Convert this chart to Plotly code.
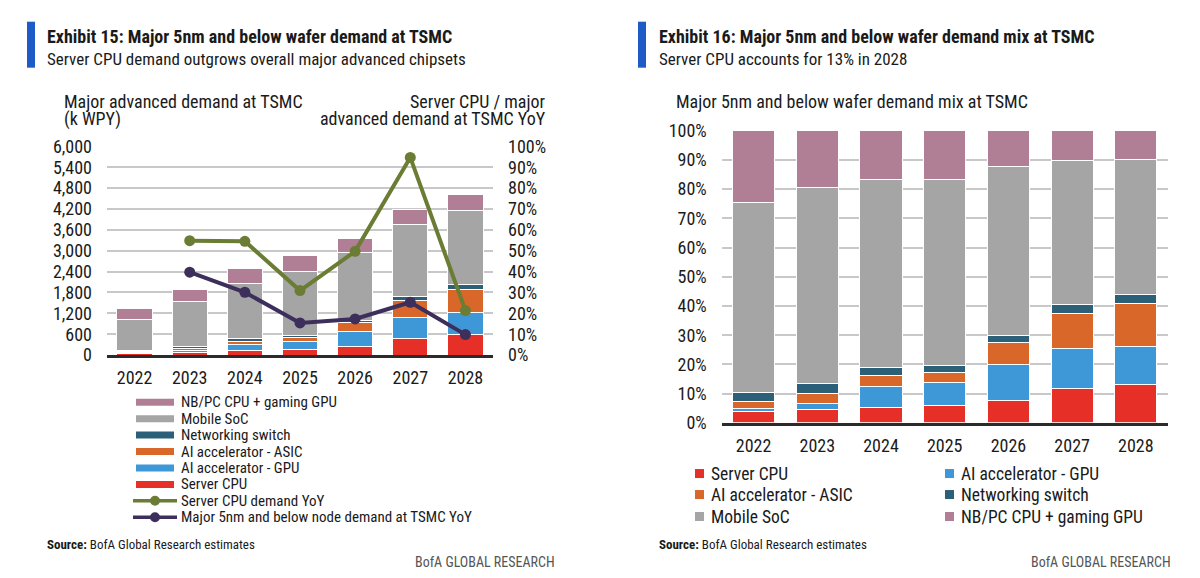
import plotly.graph_objects as go

W, H = 1200, 578

# The photographed page maps figure-y to picture-y as  y_pic = SY * y_fig + OY
# (measured from the previous renders); targets below are picture pixels.
SY, OY = 0.964, 10.3


def px(x):
    return x / W


def py(y):
    return 1 - ((y - OY) / SY) / H


FONT = "Liberation Sans Narrow, Roboto Condensed, Arial Narrow, Roboto, sans-serif"
TXT = "#1a1a1a"

RED = "#E63027"
BLUE = "#3E98D8"
ORANGE = "#D9672A"
TEAL = "#2B6078"
GRAY = "#A5A5A5"
PINK = "#B07F95"
GREEN = "#6B7D34"
PURPLE = "#3D2F5B"
ACCENT = "#1F5BC6"

years = ["2022", "2023", "2024", "2025", "2026", "2027", "2028"]

# Exhibit 15: k WPY
server_cpu_k = [53, 84, 127, 169, 256, 490, 600]
ai_gpu_k = [12, 44, 181, 223, 414, 590, 611]
ai_asic_k = [34, 61, 92, 103, 256, 490, 674]
net_switch_k = [43, 65, 67, 66, 81, 125, 140]
mobile_soc_k = [880, 1280, 1605, 1830, 1945, 2072, 2144]
nb_pc_k = [320, 364, 411, 460, 413, 430, 459]

# YoY lines (%)
server_cpu_yoy = [None, 54.8, 54.5, 30.9, 49.7, 94.7, 21.3]
total_yoy = [None, 39.7, 30.1, 15.4, 17.3, 25.3, 9.8]

# Exhibit 16: mix (%)
mix_server_cpu = [3.9, 4.4, 5.1, 5.9, 7.6, 11.8, 13.0]
mix_ai_gpu = [0.9, 2.3, 7.3, 7.8, 12.3, 13.8, 13.2]
mix_ai_asic = [2.5, 3.2, 3.7, 3.6, 7.6, 11.9, 14.6]
mix_net = [3.2, 3.4, 2.7, 2.3, 2.4, 2.9, 3.0]
mix_mobile = [65.0, 67.3, 64.5, 63.6, 57.9, 49.3, 46.3]
mix_nb = [24.5, 19.4, 16.7, 16.8, 12.2, 10.3, 9.9]

names = ["Server CPU", "AI accelerator - GPU", "AI accelerator - ASIC",
         "Networking switch", "Mobile SoC", "NB/PC CPU + gaming GPU"]
colors = [RED, BLUE, ORANGE, TEAL, GRAY, PINK]

fig = go.Figure()

left_vals = [server_cpu_k, ai_gpu_k, ai_asic_k, net_switch_k, mobile_soc_k, nb_pc_k]
for n, v, c in zip(names, left_vals, colors):
    fig.add_trace(go.Bar(x=years, y=v, name=n, width=0.64,
                         marker=dict(color=c, line=dict(color="white", width=1)),
                         xaxis="x", yaxis="y", showlegend=False))

fig.add_trace(go.Scatter(x=years, y=server_cpu_yoy, name="Server CPU demand YoY",
                         mode="lines+markers", line=dict(color=GREEN, width=4),
                         marker=dict(size=11, color=GREEN), xaxis="x", yaxis="y2",
                         showlegend=False))
fig.add_trace(go.Scatter(x=years, y=total_yoy, name="Major 5nm and below node demand at TSMC YoY",
                         mode="lines+markers", line=dict(color=PURPLE, width=4),
                         marker=dict(size=11, color=PURPLE), xaxis="x", yaxis="y2",
                         showlegend=False))

right_vals = [mix_server_cpu, mix_ai_gpu, mix_ai_asic, mix_net, mix_mobile, mix_nb]
for n, v, c in zip(names, right_vals, colors):
    fig.add_trace(go.Bar(x=years, y=v, name=n, width=0.66,
                         marker=dict(color=c, line=dict(color="white", width=1)),
                         xaxis="x3", yaxis="y3", showlegend=False))

tickfont = dict(family=FONT, size=18, color=TXT)
grid = "#C8C8C8"

fig.update_layout(
    width=W, height=H, autosize=False,
    margin=dict(l=0, r=0, t=0, b=0),
    paper_bgcolor="white", plot_bgcolor="white",
    barmode="stack",
    showlegend=False,
    font=dict(family=FONT, color=TXT),
    xaxis=dict(domain=[px(107), px(493)], anchor="y", type="category",
               showline=True, linecolor="#2b2b2b", linewidth=2.5,
               ticks="", tickfont=tickfont, showgrid=False, ticklabelstandoff=5),
    yaxis=dict(domain=[py(354.5), py(145.7)], range=[0, 6000], dtick=600,
               tickformat=",", showgrid=True, gridcolor=grid, gridwidth=1.6,
               zeroline=False, ticks="", tickfont=tickfont, ticklabelstandoff=14),
    yaxis2=dict(overlaying="y", side="right", anchor="x", range=[0, 100], dtick=10,
                ticksuffix="%", showgrid=False, zeroline=False, ticks="",
                tickfont=tickfont, ticklabelstandoff=14),
    xaxis3=dict(domain=[px(721.7), px(1167.7)], anchor="y3", type="category",
                showline=True, linecolor="#2b2b2b", linewidth=2.5,
                ticks="", tickfont=tickfont, showgrid=False, ticklabelstandoff=5),
    yaxis3=dict(domain=[py(422.3), py(130)], range=[0, 100], dtick=10,
                ticksuffix="%", showgrid=True, gridcolor=grid, gridwidth=1.6,
                zeroline=False, ticks="", tickfont=tickfont, ticklabelstandoff=14,
                anchor="x3"),
)

shapes = []
annotations = []


def text(x, y, s, size=18, anchor="left", color=TXT, bold=False):
    annotations.append(dict(
        x=px(x), y=py(y), xref="paper", yref="paper", text=("<b>%s</b>" % s) if bold else s,
        showarrow=False, xanchor=anchor, yanchor="middle",
        font=dict(family=FONT, size=size, color=color)))


# Header accents
shapes.append(dict(type="rect", xref="paper", yref="paper", x0=px(27), x1=px(35),
                   y0=py(67), y1=py(21), fillcolor=ACCENT, line=dict(width=0)))
shapes.append(dict(type="rect", xref="paper", yref="paper", x0=px(638), x1=px(646),
                   y0=py(67), y1=py(21), fillcolor=ACCENT, line=dict(width=0)))

text(45, 36, "Exhibit 15: Major 5nm and below wafer demand at TSMC", size=18, bold=True)
text(45, 58, "Server CPU demand outgrows overall major advanced chipsets", size=17)
text(657, 36, "Exhibit 16: Major 5nm and below wafer demand mix at TSMC", size=18, bold=True)
text(657, 58, "Server CPU accounts for 13% in 2028", size=17)

text(62, 101, "Major advanced demand at TSMC", size=18)
text(62, 118, "(k WPY)", size=18)
text(548, 101, "Server CPU / major", size=18, anchor="right")
text(548, 118, "advanced demand at TSMC YoY", size=18, anchor="right")

text(674, 101, "Major 5nm and below wafer demand mix at TSMC", size=18)

# Left legend (manual)
left_items = [
    ("NB/PC CPU + gaming GPU", PINK, "bar"),
    ("Mobile SoC", GRAY, "bar"),
    ("Networking switch", TEAL, "bar"),
    ("AI accelerator - ASIC", ORANGE, "bar"),
    ("AI accelerator - GPU", BLUE, "bar"),
    ("Server CPU", RED, "bar"),
    ("Server CPU demand YoY", GREEN, "line"),
    ("Major 5nm and below node demand at TSMC YoY", PURPLE, "line"),
]
for i, (lab, col, kind) in enumerate(left_items):
    yc = 401.7 + i * 16.43
    if kind == "bar":
        shapes.append(dict(type="rect", xref="paper", yref="paper", x0=px(136), x1=px(174),
                           y0=py(yc + 3.5), y1=py(yc - 3.5), fillcolor=col, line=dict(width=0)))
    else:
        shapes.append(dict(type="line", xref="paper", yref="paper", x0=px(133), x1=px(177),
                           y0=py(yc), y1=py(yc), line=dict(color=col, width=3.5)))
        shapes.append(dict(type="circle", xref="paper", yref="paper", x0=px(150), x1=px(160),
                           y0=py(yc + 5), y1=py(yc - 5), fillcolor=col, line=dict(width=0)))
    text(179, yc, lab, size=15)

# Right legend (manual)
right_items = [
    ("Server CPU", RED, 695, 473), ("AI accelerator - GPU", BLUE, 945, 473),
    ("AI accelerator - ASIC", ORANGE, 695, 494), ("Networking switch", TEAL, 945, 494),
    ("Mobile SoC", GRAY, 695, 516), ("NB/PC CPU + gaming GPU", PINK, 945, 516),
]
for lab, col, x0, yc in right_items:
    shapes.append(dict(type="rect", xref="paper", yref="paper", x0=px(x0), x1=px(x0 + 9),
                       y0=py(yc + 4.5), y1=py(yc - 4.5), fillcolor=col, line=dict(width=0)))
    text(x0 + 14, yc, lab, size=17.5)

# Footers
text(45, 544, "<b>Source:</b> BofA Global Research estimates", size=13)
text(657, 544, "<b>Source:</b> BofA Global Research estimates", size=13)
text(557, 561, "BofA GLOBAL RESEARCH", size=14, anchor="right", color="#555555")
text(1173, 561, "BofA GLOBAL RESEARCH", size=14, anchor="right", color="#555555")

fig.update_layout(shapes=shapes, annotations=annotations)

fig.write_html("out.html")
